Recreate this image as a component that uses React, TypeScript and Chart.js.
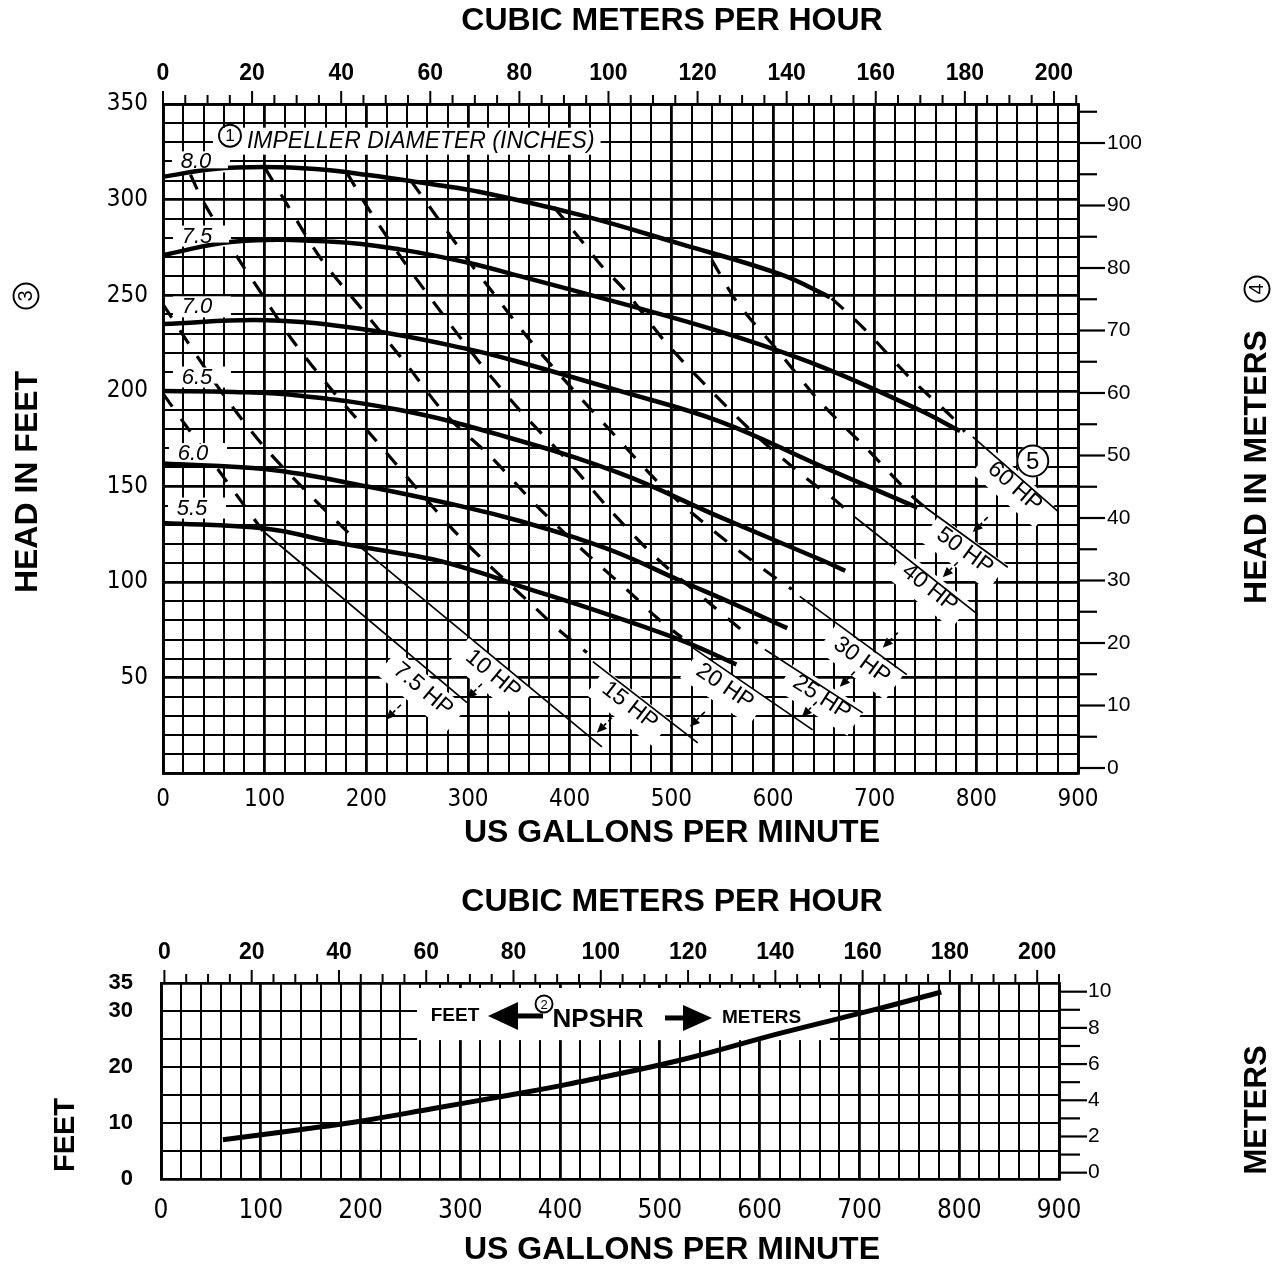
import React, { useEffect, useRef } from 'react';
import { Chart, registerables } from 'chart.js';

Chart.register(...registerables);

type P = [number, number];

// ---------------- TOP CHART DATA (US GPM vs head in feet) ----------------
const GPM_MAX = 900;
const GPM_GRID_STEP = 20;
const GPM_LABEL_EVERY = 100;
const HEAD_FT_MAX = 350;
const HEAD_FT_GRID_STEP = 10;
const HEAD_FT_LABELS: number[] = [50, 100, 150, 200, 250, 300, 350];
const HEAD_M_LABELS: number[] = [0, 10, 20, 30, 40, 50, 60, 70, 80, 90, 100];
const CMH_LABELS: number[] = [0, 20, 40, 60, 80, 100, 120, 140, 160, 180, 200];

const DIAMETER_LABELS: string[] = ['8.0', '7.5', '7.0', '6.5', '6.0', '5.5'];
const DIAMETER_LABEL_AT: P[] = [[32.4, 319.5], [33.4, 280.7], [33.4, 243.7], [33.4, 207], [29.5, 167], [28.5, 138.5]];

const HEAD_8_0: P[] = [[0, 312], [50, 316], [100, 317], [150, 316], [200, 313], [265, 308], [312, 304], [410, 292], [508, 277], [607, 261], [656, 249]];
const HEAD_7_5: P[] = [[0, 271], [69, 278], [167, 278], [233, 274], [300, 267], [351, 260], [449, 246], [548, 231], [646, 213], [744, 190], [784, 179]];
const HEAD_7_0: P[] = [[0, 235], [102, 237], [200, 232], [299, 222], [351, 215], [449, 200], [548, 184], [646, 161], [742, 139]];
const HEAD_6_5: P[] = [[0, 200], [69, 199.5], [135, 197.5], [233, 190], [331, 177], [449, 157], [548, 134], [646, 112], [671, 106]];
const HEAD_6_0: P[] = [[0, 162], [102, 159], [201, 150], [299, 139], [351, 132], [407, 123], [449, 115], [508, 101], [560, 89], [614, 76]];
const HEAD_5_5: P[] = [[0, 131], [102, 128], [167, 121], [200, 118], [265, 112], [312, 105], [351, 98], [410, 88], [508, 70], [564, 57]];
const HEAD_CURVES: P[][] = [HEAD_8_0, HEAD_7_5, HEAD_7_0, HEAD_6_5, HEAD_6_0, HEAD_5_5];

const HP_LABELS: string[] = ['7.5 HP', '10 HP', '15 HP', '20 HP', '25 HP', '30 HP', '40 HP', '50 HP', '60 HP'];

const HP75_DASH: P[] = [[0, 198.6], [22.6, 181.8], [61, 153.9], [98.3, 126.7]];
const HP75_THIN: P[] = [[100, 126], [299, 37]];
const HP10_DASH: P[] = [[0, 245.3], [24.6, 225.3], [63, 195.4], [101.3, 169.7], [146.5, 144.5], [191.7, 121]];
const HP10_THIN: P[] = [[191.7, 119.4], [431.7, 13.9]];
const HP15_DASH: P[] = [[27, 313], [40.3, 298.3], [73.7, 269.4], [93.4, 253.7], [126.8, 226.9], [169, 198.6], [211.4, 172.9], [252.7, 147.2], [295, 122], [367.7, 85.8], [392.3, 73.7], [417, 63.2]];
const HP15_THIN: P[] = [[422.8, 58.5], [526, 16]];
const HP20_DASH: P[] = [[100.3, 316.6], [122.9, 296.7], [156.3, 268.4], [196.7, 242.1], [238.9, 214.3], [278.3, 187.5], [323.5, 165], [366.8, 140.3], [413, 116.7], [459.2, 94.7], [486.7, 81], [510.3, 71.1]];
const HP20_THIN: P[] = [[521, 65.8], [639, 22.8]];
const HP25_DASH: P[] = [[181, 314], [199.6, 297.3], [236, 268.4], [274.3, 240.6], [313.7, 213.3], [354, 188.1], [398.2, 163.4], [441.5, 136.7], [486.7, 112], [537.9, 88.9], [585, 67.9]];
const HP25_THIN: P[] = [[592, 64.8], [688.3, 31.7]];
const HP30_DASH: P[] = [[243.9, 309.8], [264.5, 294.6], [302.9, 266.3], [323.5, 252.1], [361.8, 225.9], [406, 199.1], [447.4, 175], [491.6, 149.8], [541.8, 126.7], [592, 106.3], [618.5, 96.3]];
const HP30_THIN: P[] = [[626.3, 92.6], [731.6, 51.7]];
const HP40_DASH: P[] = [[384.5, 296.2], [412, 278.3], [431.7, 265.2], [454.3, 252.6], [493.6, 225.9], [537.9, 200.7], [585, 176], [632.3, 154.5], [659.8, 143.5], [678.5, 134.6]];
const HP40_THIN: P[] = [[680.4, 134.1], [801.4, 83.2]];
const HP50_DASH: P[] = [[539.8, 268.4], [565.4, 245.8], [604.7, 221.1], [646, 194.4], [691.3, 170.3], [737.5, 144.6], [749.3, 139.3]];
const HP50_THIN: P[] = [[749.3, 139.3], [830.9, 107.8]];
const HP60_DASH: P[] = [[657.8, 248.4], [689.3, 232.7], [733.5, 207.5], [779.8, 184.4], [788.6, 178.6]];
const HP60_THIN: P[] = [[796.5, 176], [880, 137.2]];

const HP_DASHED: P[][] = [HP75_DASH, HP10_DASH, HP15_DASH, HP20_DASH, HP25_DASH, HP30_DASH, HP40_DASH, HP50_DASH, HP60_DASH];
const HP_THIN: P[][] = [HP75_THIN, HP10_THIN, HP15_THIN, HP20_THIN, HP25_THIN, HP30_THIN, HP40_THIN, HP50_THIN, HP60_THIN];
const HP_LABEL_AT: P[] = [[255.7, 43.8], [324.5, 51.7], [459.2, 35.4], [552.6, 45.4], [648, 39.6], [687.3, 59], [754.2, 96.8], [788.6, 116.2], [837.8, 149.8]];
const HP_ARROW_TIP: P[] = [[219.3, 28.1], [299, 39.1], [426.7, 21.3], [518.2, 24.4], [628.3, 29.6], [665.7, 45.4], [708, 65.8], [767, 102.6], [796.5, 126.2]];

const IMPELLER_TEXT = 'IMPELLER DIAMETER (INCHES)';
const IMPELLER_AT: P = [82.6, 330.3];
const NOTE5_AT: P = [855.5, 163.4];

// ---------------- BOTTOM CHART DATA (NPSHR) ----------------
const NPSHR_FT_MAX = 35;
const NPSHR_FT_GRID_STEP = 5;
const NPSHR_FT_LABELS: number[] = [0, 10, 20, 30, 35];
const NPSHR_M_LABELS: number[] = [0, 2, 4, 6, 8, 10];
const NPSHR_CURVE: P[] = [[62, 7], [139, 8.8], [206, 10.5], [273, 12.6], [340, 14.7], [407, 16.9], [520, 21.2], [620, 26], [721, 30.5], [782, 33.4]];
const NPSHR_BOX: P[] = [[256.6, 34.1], [670.5, 24.8]];
const NPSHR_LABEL_AT: P = [438, 28.4];

// ---------------- helpers ----------------
const FONT = "'Liberation Sans', Arial, Helvetica, sans-serif";
const PLOT_FONT = "'DejaVu Sans Condensed', 'DejaVu Sans', sans-serif";

const pts = (a: P[]) => a.map(([x, y]) => ({ x, y }));
const toPx = (chart: any, p: P, xs = 'x', ys = 'y'): [number, number] => [
  chart.scales[xs].getPixelForValue(p[0]),
  chart.scales[ys].getPixelForValue(p[1]),
];

function text(ctx: CanvasRenderingContext2D, s: string, x: number, y: number, font: string, align: CanvasTextAlign = 'center', angle = 0) {
  ctx.save();
  ctx.translate(x, y);
  if (angle) ctx.rotate(angle);
  ctx.font = font;
  ctx.fillStyle = '#000';
  ctx.textAlign = align;
  ctx.textBaseline = 'middle';
  ctx.fillText(s, 0, 0);
  ctx.restore();
}

function line(ctx: CanvasRenderingContext2D, x1: number, y1: number, x2: number, y2: number, w: number) {
  ctx.beginPath();
  ctx.lineWidth = w;
  ctx.strokeStyle = '#000';
  ctx.moveTo(x1, y1);
  ctx.lineTo(x2, y2);
  ctx.stroke();
}

function circled(ctx: CanvasRenderingContext2D, digit: string, x: number, y: number, r: number, size: number, angle = 0, fill = true) {
  ctx.save();
  if (fill) {
    ctx.fillStyle = '#fff';
    ctx.beginPath();
    ctx.arc(x, y, r + 1, 0, Math.PI * 2);
    ctx.fill();
  }
  ctx.strokeStyle = '#000';
  ctx.lineWidth = 1.9;
  ctx.beginPath();
  ctx.arc(x, y, r, 0, Math.PI * 2);
  ctx.stroke();
  ctx.restore();
  text(ctx, digit, x, y + (angle ? 0 : 1), `${size}px ${FONT}`, 'center', angle);
}

function arrow(ctx: CanvasRenderingContext2D, x1: number, y1: number, x2: number, y2: number) {
  const ang = Math.atan2(y2 - y1, x2 - x1);
  const hl = 10;
  const bx = x2 - hl * Math.cos(ang);
  const by = y2 - hl * Math.sin(ang);
  ctx.save();
  ctx.setLineDash([5, 3]);
  line(ctx, x1, y1, bx, by, 1.6);
  ctx.setLineDash([]);
  ctx.fillStyle = '#000';
  ctx.beginPath();
  ctx.moveTo(x2, y2);
  ctx.lineTo(bx + 4.5 * Math.sin(ang), by - 4.5 * Math.cos(ang));
  ctx.lineTo(bx - 4.5 * Math.sin(ang), by + 4.5 * Math.cos(ang));
  ctx.closePath();
  ctx.fill();
  ctx.restore();
}

function hpGeom(chart: any, i: number) {
  const thin = HP_THIN[i];
  const [x1, y1] = toPx(chart, thin[0]);
  const [x2, y2] = toPx(chart, thin[thin.length - 1]);
  const ang = Math.atan2(y2 - y1, x2 - x1);
  const [cx, cy] = toPx(chart, HP_LABEL_AT[i]);
  return { ang, cx, cy };
}

const HP_FONT = `23px ${FONT}`;

const topDecor = {
  id: 'topDecor',
  beforeDatasetsDraw(chart: any) {
    const ctx: CanvasRenderingContext2D = chart.ctx;
    ctx.save();
    ctx.font = HP_FONT;
    HP_LABELS.forEach((lab, i) => {
      const g = hpGeom(chart, i);
      const w = ctx.measureText(lab).width;
      ctx.save();
      ctx.translate(g.cx, g.cy);
      ctx.rotate(g.ang);
      ctx.fillStyle = '#fff';
      ctx.fillRect(-w / 2 - 10, -14, w + 20, 32);
      ctx.restore();
    });
    ctx.fillStyle = '#fff';
    DIAMETER_LABELS.forEach((lab, i) => {
      const [cx, cy] = toPx(chart, DIAMETER_LABEL_AT[i]);
      ctx.fillRect(cx - 24, cy - 11, 58, 21);
    });
    ctx.restore();
  },
  afterDatasetsDraw(chart: any) {
    const ctx: CanvasRenderingContext2D = chart.ctx;
    ctx.save();
    DIAMETER_LABELS.forEach((lab, i) => {
      const [cx, cy] = toPx(chart, DIAMETER_LABEL_AT[i]);
      ctx.fillStyle = '#fff';
      ctx.fillRect(cx - 22, cy - 10, 54, 16);
      text(ctx, lab, cx, cy, `italic 22px ${FONT}`);
    });
    const [ix, iy] = toPx(chart, IMPELLER_AT);
    ctx.font = `italic 23px ${FONT}`;
    const iw = ctx.measureText(IMPELLER_TEXT).width;
    ctx.fillStyle = '#fff';
    ctx.fillRect(ix - 34, iy - 14, iw + 40, 27);
    circled(ctx, '1', ix - 17, iy - 6, 11, 17, 0, false);
    text(ctx, IMPELLER_TEXT, ix, iy, `italic 23px ${FONT}`, 'left');
    HP_LABELS.forEach((lab, i) => {
      const g = hpGeom(chart, i);
      text(ctx, lab, g.cx, g.cy, HP_FONT, 'center', g.ang);
      const [tx, ty] = toPx(chart, HP_ARROW_TIP[i]);
      arrow(ctx, tx + 15, ty - 15, tx, ty);
    });
    const [nx, ny] = toPx(chart, NOTE5_AT);
    circled(ctx, '5', nx, ny, 15.5, 24);
    ctx.restore();
  },
  afterDraw(chart: any) {
    const ctx: CanvasRenderingContext2D = chart.ctx;
    const { top, right } = chart.chartArea;
    const x2 = chart.scales.x2;
    const y2 = chart.scales.y2;
    ctx.save();
    for (let v = 0; v <= 205; v += 5) {
      const X = x2.getPixelForValue(v);
      line(ctx, X, top, X, top - (v % 20 === 0 ? 13 : 9), 2);
    }
    for (let v = 0; v <= 105; v += 5) {
      const Y = y2.getPixelForValue(v);
      line(ctx, right, Y, right + (v % 10 === 0 ? 27 : 19), Y, 2.2);
    }
    const TF = `bold 32px ${FONT}`;
    text(ctx, 'CUBIC METERS PER HOUR', 672, 21, TF);
    text(ctx, 'US GALLONS PER MINUTE', 672, 833, TF);
    text(ctx, 'HEAD IN FEET', 28, 482, TF, 'center', -Math.PI / 2);
    circled(ctx, '3', 26, 296, 12.5, 20, -Math.PI / 2, false);
    text(ctx, 'HEAD IN METERS', 1257, 467, TF, 'center', -Math.PI / 2);
    circled(ctx, '4', 1257, 289, 12.5, 20, -Math.PI / 2, false);
    ctx.restore();
  },
};

const botDecor = {
  id: 'botDecor',
  beforeDatasetsDraw(chart: any) {
    const ctx: CanvasRenderingContext2D = chart.ctx;
    const [ax, ay] = toPx(chart, NPSHR_BOX[0]);
    const [bx, by] = toPx(chart, NPSHR_BOX[1]);
    ctx.save();
    ctx.fillStyle = '#fff';
    ctx.fillRect(ax, ay, bx - ax, by - ay);
    ctx.restore();
  },
  afterDatasetsDraw(chart: any) {
    const ctx: CanvasRenderingContext2D = chart.ctx;
    const [ax, ay] = toPx(chart, NPSHR_LABEL_AT);
    ctx.save();
    ctx.fillStyle = '#000';
    text(ctx, 'FEET', ax - 143, ay - 4, `bold 19px ${FONT}`);
    ctx.beginPath();
    ctx.moveTo(ax - 110, ay - 4);
    ctx.lineTo(ax - 80, ay - 18);
    ctx.lineTo(ax - 80, ay + 10);
    ctx.closePath();
    ctx.fill();
    ctx.fillRect(ax - 81, ay - 6.5, 26, 5);
    circled(ctx, '2', ax - 54, ay - 16, 8.5, 13, 0, false);
    text(ctx, 'NPSHR', ax, ay, `bold 26px ${FONT}`);
    ctx.fillStyle = '#000';
    ctx.fillRect(ax + 67, ay - 4.5, 20, 5);
    ctx.beginPath();
    ctx.moveTo(ax + 114, ay - 2);
    ctx.lineTo(ax + 85, ay - 15);
    ctx.lineTo(ax + 85, ay + 11);
    ctx.closePath();
    ctx.fill();
    text(ctx, 'METERS', ax + 124, ay - 2, `bold 19px ${FONT}`, 'left');
    ctx.restore();
  },
  afterDraw(chart: any) {
    const ctx: CanvasRenderingContext2D = chart.ctx;
    const { top, right } = chart.chartArea;
    const x2 = chart.scales.x2;
    const y2 = chart.scales.y2;
    ctx.save();
    for (let v = 0; v <= 205; v += 5) {
      const X = x2.getPixelForValue(v);
      line(ctx, X, top, X, top - (v % 20 === 0 ? 13 : 9), 2);
    }
    for (let v = 0; v <= 10; v += 1) {
      const Y = y2.getPixelForValue(v);
      line(ctx, right, Y, right + (v % 2 === 0 ? 28 : 21), Y, 2.2);
    }
    const TF = `bold 32px ${FONT}`;
    text(ctx, 'CUBIC METERS PER HOUR', 672, 42, TF);
    text(ctx, 'US GALLONS PER MINUTE', 672, 390, TF);
    text(ctx, 'FEET', 66, 275, `bold 29px ${FONT}`, 'center', -Math.PI / 2);
    text(ctx, 'METERS', 1257, 250, `bold 31px ${FONT}`, 'center', -Math.PI / 2);
    ctx.restore();
  },
};

const gridW = (major: number) => (c: any) => (c.tick && Math.abs(c.tick.value % major) < 1e-6 ? 2.8 : 2);

function topConfig(): any {
  const datasets: any[] = [];
  HEAD_CURVES.forEach((c, i) =>
    datasets.push({ label: `Impeller ${DIAMETER_LABELS[i]} in`, data: pts(c), borderColor: '#000', borderWidth: 4.5, pointRadius: 0, tension: 0.4, fill: false, xAxisID: 'x', yAxisID: 'y' })
  );
  HP_DASHED.forEach((c, i) =>
    datasets.push({ label: `${HP_LABELS[i]} (dashed)`, data: pts(c), borderColor: '#000', borderWidth: 3.2, borderDash: [16, 15], pointRadius: 0, tension: 0.3, fill: false, xAxisID: 'x', yAxisID: 'y' })
  );
  HP_THIN.forEach((c, i) =>
    datasets.push({ label: HP_LABELS[i], data: pts(c), borderColor: '#000', borderWidth: 1.7, pointRadius: 0, tension: 0, fill: false, xAxisID: 'x', yAxisID: 'y' })
  );
  return {
    type: 'line',
    data: { datasets },
    plugins: [topDecor],
    options: {
      responsive: false,
      animation: false,
      devicePixelRatio: 1,
      events: [],
      layout: { padding: 0 },
      plugins: { legend: { display: false }, tooltip: { enabled: false } },
      scales: {
        x: {
          type: 'linear', position: 'bottom', min: 0, max: GPM_MAX,
          ticks: { stepSize: GPM_GRID_STEP, autoSkip: false, maxRotation: 0, padding: 12, color: '#000', font: { family: PLOT_FONT, size: 24 }, callback: (v: number) => (v % GPM_LABEL_EVERY === 0 ? String(v) : '') },
          grid: { color: '#000', lineWidth: gridW(100), drawTicks: false },
          border: { display: true, color: '#000', width: 2.8 },
          afterFit: (s: any) => { s.height = 86.5; },
        },
        x2: {
          type: 'linear', position: 'top', min: 0, max: 205.4,
          afterBuildTicks: (s: any) => { s.ticks = CMH_LABELS.map((v) => ({ value: v })); },
          ticks: { autoSkip: false, maxRotation: 0, padding: 17, color: '#000', font: { family: FONT, size: 23, weight: 'bold' }, callback: (v: number) => String(v) },
          grid: { drawOnChartArea: false, drawTicks: false },
          border: { display: true, color: '#000', width: 2.8 },
          afterFit: (s: any) => { s.height = 104; },
        },
        y: {
          type: 'linear', position: 'left', min: 0, max: HEAD_FT_MAX,
          ticks: { stepSize: HEAD_FT_GRID_STEP, autoSkip: false, padding: 15, color: '#000', font: { family: PLOT_FONT, size: 24 }, callback: (v: number) => (HEAD_FT_LABELS.includes(v) ? String(v) : '') },
          grid: { color: '#000', lineWidth: gridW(50), drawTicks: false },
          border: { display: true, color: '#000', width: 2.8 },
          afterFit: (s: any) => { s.width = 163; },
        },
        y2: {
          type: 'linear', position: 'right', min: -0.88, max: 106.24,
          afterBuildTicks: (s: any) => { s.ticks = HEAD_M_LABELS.map((v) => ({ value: v })); },
          ticks: { autoSkip: false, padding: 29, color: '#000', font: { family: FONT, size: 21 }, callback: (v: number) => String(v) },
          grid: { drawOnChartArea: false, drawTicks: false },
          border: { display: true, color: '#000', width: 2.8 },
          afterFit: (s: any) => { s.width = 201; },
        },
      },
    },
  };
}

function bottomConfig(): any {
  return {
    type: 'line',
    data: {
      datasets: [
        { label: 'NPSHR', data: pts(NPSHR_CURVE), borderColor: '#000', borderWidth: 5, pointRadius: 0, tension: 0.4, fill: false, xAxisID: 'x', yAxisID: 'y' },
      ],
    },
    plugins: [botDecor],
    options: {
      responsive: false,
      animation: false,
      devicePixelRatio: 1,
      events: [],
      layout: { padding: 0 },
      plugins: { legend: { display: false }, tooltip: { enabled: false } },
      scales: {
        x: {
          type: 'linear', position: 'bottom', min: 0, max: GPM_MAX,
          ticks: { stepSize: GPM_GRID_STEP, autoSkip: false, maxRotation: 0, padding: 17, color: '#000', font: { family: PLOT_FONT, size: 26 }, callback: (v: number) => (v % GPM_LABEL_EVERY === 0 ? String(v) : '') },
          grid: { color: '#000', lineWidth: gridW(100), drawTicks: false },
          border: { display: true, color: '#000', width: 2.8 },
          afterFit: (s: any) => { s.height = 93; },
        },
        x2: {
          type: 'linear', position: 'top', min: -0.78, max: 205,
          afterBuildTicks: (s: any) => { s.ticks = CMH_LABELS.map((v) => ({ value: v })); },
          ticks: { autoSkip: false, maxRotation: 0, padding: 17, color: '#000', font: { family: FONT, size: 23, weight: 'bold' }, callback: (v: number) => String(v) },
          grid: { drawOnChartArea: false, drawTicks: false },
          border: { display: true, color: '#000', width: 2.8 },
          afterFit: (s: any) => { s.height = 123; },
        },
        y: {
          type: 'linear', position: 'left', min: 0, max: NPSHR_FT_MAX,
          ticks: { stepSize: NPSHR_FT_GRID_STEP, autoSkip: false, padding: 28, color: '#000', font: { family: FONT, size: 22, weight: 'bold' }, callback: (v: number) => (NPSHR_FT_LABELS.includes(v) ? String(v) : '') },
          grid: { color: '#000', lineWidth: 2, drawTicks: false },
          border: { display: true, color: '#000', width: 2.8 },
          afterFit: (s: any) => { s.width = 161; },
        },
        y2: {
          type: 'linear', position: 'right', min: -0.35, max: 10.48,
          afterBuildTicks: (s: any) => { s.ticks = NPSHR_M_LABELS.map((v) => ({ value: v })); },
          ticks: { autoSkip: false, padding: 29, color: '#000', font: { family: FONT, size: 21 }, callback: (v: number) => String(v) },
          grid: { drawOnChartArea: false, drawTicks: false },
          border: { display: true, color: '#000', width: 2.8 },
          afterFit: (s: any) => { s.width = 220; },
        },
      },
    },
  };
}

export default function App() {
  const topRef = useRef<HTMLCanvasElement>(null);
  const botRef = useRef<HTMLCanvasElement>(null);
  useEffect(() => {
    const c1 = new Chart(topRef.current as HTMLCanvasElement, topConfig());
    const c2 = new Chart(botRef.current as HTMLCanvasElement, bottomConfig());
    return () => {
      c1.destroy();
      c2.destroy();
    };
  }, []);
  return (
    <div style={{ position: 'absolute', left: 0, top: 0, width: 1279, height: 1272, background: '#fff', overflow: 'hidden' }}>
      <canvas ref={topRef} width={1279} height={860} style={{ position: 'absolute', left: 0, top: 0, width: 1279, height: 860 }} />
      <canvas ref={botRef} width={1279} height={412} style={{ position: 'absolute', left: 0, top: 860, width: 1279, height: 412 }} />
    </div>
  );
}
